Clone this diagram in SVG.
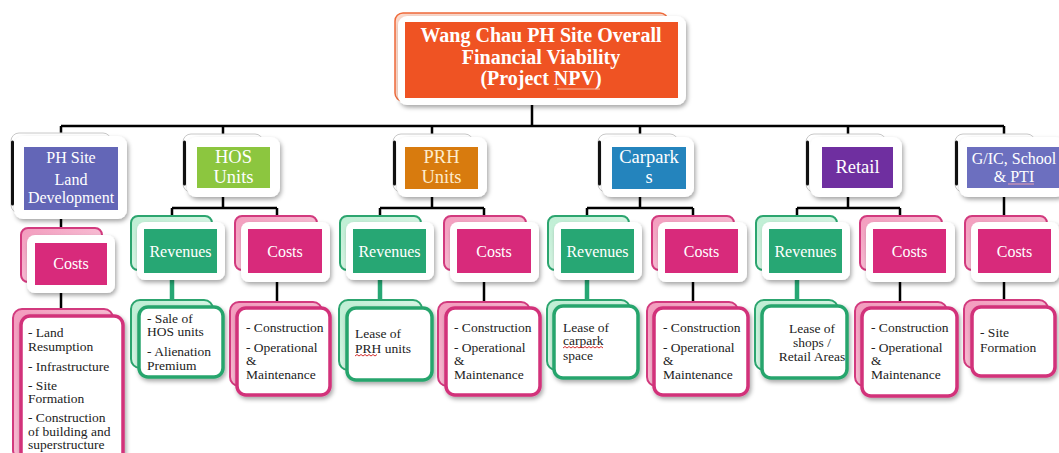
<svg xmlns="http://www.w3.org/2000/svg" width="1059" height="453" viewBox="0 0 1059 453">
  <defs>
    <filter id="shadow" x="-20%" y="-20%" width="140%" height="150%">
      <feDropShadow dx="1.5" dy="2.5" stdDeviation="2" flood-color="#000" flood-opacity="0.35"/>
    </filter>
    <linearGradient id="pinkBack" x1="0" y1="0" x2="1" y2="1">
      <stop offset="0" stop-color="#f39bbd"/>
      <stop offset="1" stop-color="#fbd6e4"/>
    </linearGradient>
    <linearGradient id="greenBack" x1="0" y1="0" x2="1" y2="1">
      <stop offset="0" stop-color="#bdeed3"/>
      <stop offset="1" stop-color="#ecfbf2"/>
    </linearGradient>
  </defs>
  <style>
    .card { fill: #ffffff; filter: url(#shadow); }
    .l1back { fill: #ffffff; stroke: #c8c8c8; stroke-width: 1; }
    .l1edge { fill: none; stroke: #111; stroke-width: 3; stroke-linecap: round; }
    .pinkback { fill: url(#pinkBack); stroke: #d23a7e; stroke-width: 2; }
    .greenback { fill: url(#greenBack); stroke: #2ca56f; stroke-width: 2; }
    .pinkbox { fill: #ffffff; stroke: #d2307a; stroke-width: 3.5; filter: url(#shadow); }
    .greenbox { fill: #ffffff; stroke: #28a56d; stroke-width: 3.5; filter: url(#shadow); }
    .costs { fill: #d82a7b; }
    .rev { fill: #27a774; }
    .title { font-family: "Liberation Serif", serif; font-weight: bold; font-size: 20px; fill: #ffffff; text-anchor: middle; }
    .h1 { font-family: "Liberation Serif", serif; font-size: 18.5px; fill: #ffffff; text-anchor: middle; }
    .h1s { font-family: "Liberation Serif", serif; font-size: 16px; fill: #ffffff; text-anchor: middle; }
    .h2 { font-family: "Liberation Serif", serif; font-size: 16px; fill: #ffffff; text-anchor: middle; }
    .body { font-family: "Liberation Serif", serif; font-size: 13.5px; fill: #222222; }
    .bodyc { font-family: "Liberation Serif", serif; font-size: 13.5px; fill: #222222; text-anchor: middle; }
    .conn { fill: none; stroke: #000; stroke-width: 2.5; }
    .connG { fill: none; stroke: #27a774; stroke-width: 4.5; }
    .squig { fill: none; stroke: #d23030; stroke-width: 1; }
    .uline { fill: none; stroke-width: 1; }
  </style>

  <!-- connectors -->
  <g id="connectors">
    <path class="conn" d="M532,105 V126 M61,126 H1004 M61,126 V133 M223,126 V134 M432,126 V134 M640,126 V134 M848,126 V134 M1004,126 V134"/>
    <path class="conn" d="M61,219 V228"/>
    <path class="conn" d="M223,197 V208 M172,208 H277 M172,208 V216 M277,208 V216"/>
    <path class="conn" d="M432,197 V208 M380,208 H484 M380,208 V216 M484,208 V216"/>
    <path class="conn" d="M640,197 V208 M587,208 H693 M587,208 V216 M693,208 V216"/>
    <path class="conn" d="M848,197 V208 M797,208 H900 M797,208 V216 M900,208 V216"/>
    <path class="conn" d="M1004,197 V216"/>
    <path class="conn" d="M61,293 V309 M277,282 V302 M484,282 V302 M693,282 V302 M900,282 V302 M1004,282 V300"/>
    <path class="connG" d="M172,280 V300 M380,280 V300 M587,280 V300 M797,280 V300"/>
  </g>

  <!-- root -->
  <g id="root">
    <rect x="395" y="13" width="273" height="88" rx="8" fill="#fbd9cb" stroke="#ef6a3a" stroke-width="1.5"/>
    <rect class="card" x="398" y="16" width="288" height="89" rx="9"/>
    <rect x="405" y="22" width="273" height="76" fill="#ef5323"/>
    <text class="title" x="541" y="42">Wang Chau PH Site Overall</text>
    <text class="title" x="541" y="63.5">Financial Viability</text>
    <text class="title" x="541" y="85">(Project NPV)</text>
    <path class="uline" stroke="#f7b79c" d="M557,89 H600"/>
  </g>

  <!-- level 1 -->
  <g id="ph-site">
    <rect class="l1back" x="11" y="133" width="100" height="80" rx="8"/>
    <path class="l1edge" d="M12.5,142 V204"/>
    <rect class="card" x="14" y="136" width="113" height="83" rx="9"/>
    <rect x="24" y="147" width="94" height="63" fill="#6366b7"/>
    <text class="h1s" x="71" y="163">PH Site</text>
    <text class="h1s" x="71" y="185">Land</text>
    <text class="h1s" x="71" y="203">Development</text>
  </g>
  <g id="hos">
    <rect class="l1back" x="183" y="134" width="80" height="58" rx="8"/>
    <path class="l1edge" d="M184.5,142 V184"/>
    <rect class="card" x="187" y="137" width="93" height="60" rx="9"/>
    <rect x="197" y="147" width="73" height="41" fill="#8cc63f"/>
    <text class="h1" x="233.5" y="163">HOS</text>
    <text class="h1" x="233.5" y="183">Units</text>
  </g>
  <g id="prh">
    <rect class="l1back" x="393" y="134" width="80" height="58" rx="8"/>
    <path class="l1edge" d="M394.5,142 V184"/>
    <rect class="card" x="397" y="137" width="90" height="60" rx="9"/>
    <rect x="405" y="147" width="73" height="42" fill="#d87b0e"/>
    <text class="h1" x="441.5" y="163" style="fill:#fdeccd">PRH</text>
    <text class="h1" x="441.5" y="183" style="fill:#fdeccd">Units</text>
  </g>
  <g id="carparks">
    <rect class="l1back" x="598" y="134" width="80" height="58" rx="8"/>
    <path class="l1edge" d="M599.5,142 V184"/>
    <rect class="card" x="602" y="137" width="92" height="60" rx="9"/>
    <rect x="612" y="147" width="74" height="42" fill="#2484bd"/>
    <text class="h1" x="649" y="163">Carpark</text>
    <text class="h1" x="649" y="183">s</text>
  </g>
  <g id="retail">
    <rect class="l1back" x="806" y="134" width="80" height="58" rx="8"/>
    <path class="l1edge" d="M807.5,142 V184"/>
    <rect class="card" x="810" y="137" width="92" height="60" rx="9"/>
    <rect x="822" y="147" width="71" height="41" fill="#6f2fa0"/>
    <text class="h1" x="857.5" y="173">Retail</text>
  </g>
  <g id="gic">
    <rect class="l1back" x="955" y="134" width="80" height="58" rx="8"/>
    <path class="l1edge" d="M956.5,142 V184"/>
    <rect class="card" x="959" y="137" width="106" height="60" rx="9"/>
    <rect x="967" y="147" width="92" height="41" fill="#6c6fbf"/>
    <text class="h1s" x="1014" y="164">G/IC, School</text>
    <text class="h1s" x="1014" y="182">&amp; PTI</text>
    <path class="uline" stroke="#e8a0b0" d="M1008,184 H1034"/>
  </g>

  <!-- level 2 -->
  <g id="ph-costs">
    <rect class="pinkback" x="21" y="228" width="81" height="54" rx="7"/>
    <rect class="card" x="27" y="235" width="88" height="58" rx="8"/>
    <rect class="costs" x="35" y="243" width="72" height="42"/>
    <text class="h2" x="71" y="269">Costs</text>
  </g>
  <g id="hos-revenues">
    <rect class="greenback" x="131" y="216" width="81" height="54" rx="7"/>
    <rect class="card" x="137" y="222" width="88" height="58" rx="8"/>
    <rect class="rev" x="144" y="229" width="73" height="44"/>
    <text class="h2" x="180.5" y="257">Revenues</text>
  </g>
  <g id="hos-costs">
    <rect class="pinkback" x="235" y="216" width="82" height="54" rx="7"/>
    <rect class="card" x="241" y="222" width="89" height="60" rx="8"/>
    <rect class="costs" x="248" y="229" width="74" height="44"/>
    <text class="h2" x="285" y="257">Costs</text>
  </g>
  <g id="prh-revenues">
    <rect class="greenback" x="340" y="216" width="81" height="54" rx="7"/>
    <rect class="card" x="346" y="222" width="88" height="58" rx="8"/>
    <rect class="rev" x="353" y="229" width="73" height="44"/>
    <text class="h2" x="389.5" y="257">Revenues</text>
  </g>
  <g id="prh-costs">
    <rect class="pinkback" x="444" y="216" width="82" height="54" rx="7"/>
    <rect class="card" x="450" y="222" width="89" height="60" rx="8"/>
    <rect class="costs" x="457" y="229" width="74" height="44"/>
    <text class="h2" x="494" y="257">Costs</text>
  </g>
  <g id="carpark-revenues">
    <rect class="greenback" x="548" y="216" width="81" height="54" rx="7"/>
    <rect class="card" x="554" y="222" width="88" height="58" rx="8"/>
    <rect class="rev" x="561" y="229" width="73" height="44"/>
    <text class="h2" x="597.5" y="257">Revenues</text>
  </g>
  <g id="carpark-costs">
    <rect class="pinkback" x="652" y="216" width="82" height="54" rx="7"/>
    <rect class="card" x="658" y="222" width="89" height="60" rx="8"/>
    <rect class="costs" x="665" y="229" width="73" height="44"/>
    <text class="h2" x="701.5" y="257">Costs</text>
  </g>
  <g id="retail-revenues">
    <rect class="greenback" x="756" y="216" width="81" height="54" rx="7"/>
    <rect class="card" x="762" y="222" width="88" height="58" rx="8"/>
    <rect class="rev" x="769" y="229" width="73" height="44"/>
    <text class="h2" x="805.5" y="257">Revenues</text>
  </g>
  <g id="retail-costs">
    <rect class="pinkback" x="860" y="216" width="82" height="54" rx="7"/>
    <rect class="card" x="866" y="222" width="89" height="60" rx="8"/>
    <rect class="costs" x="873" y="229" width="73" height="44"/>
    <text class="h2" x="909.5" y="257">Costs</text>
  </g>
  <g id="gic-costs">
    <rect class="pinkback" x="965" y="216" width="82" height="54" rx="7"/>
    <rect class="card" x="971" y="222" width="88" height="60" rx="8"/>
    <rect class="costs" x="978" y="229" width="73" height="44"/>
    <text class="h2" x="1014.5" y="257">Costs</text>
  </g>

  <!-- level 3 -->
  <g id="ph-costs-items">
    <rect class="pinkback" x="13" y="309" width="100" height="150" rx="9"/>
    <rect class="pinkbox" x="21" y="316" width="102" height="150" rx="9"/>
    <text class="body" x="28" y="337">- Land</text>
    <text class="body" x="28" y="351">Resumption</text>
    <text class="body" x="28" y="371">- Infrastructure</text>
    <text class="body" x="28" y="390">- Site</text>
    <text class="body" x="28" y="403">Formation</text>
    <text class="body" x="28" y="422">- Construction</text>
    <text class="body" x="28" y="436">of building and</text>
    <text class="body" x="28" y="449">superstructure</text>
  </g>
  <g id="hos-revenue-items">
    <rect class="greenback" x="131" y="300" width="82" height="68" rx="9"/>
    <rect class="greenbox" x="139" y="307" width="84" height="70" rx="9"/>
    <text class="body" x="147" y="323">- Sale of</text>
    <text class="body" x="147" y="336">HOS units</text>
    <text class="body" x="147" y="356">- Alienation</text>
    <text class="body" x="147" y="370">Premium</text>
  </g>
  <g id="hos-cost-items">
    <rect class="pinkback" x="230" y="302" width="92" height="84" rx="9"/>
    <rect class="pinkbox" x="237" y="308" width="93" height="87" rx="9"/>
    <text class="body" x="246" y="332">- Construction</text>
    <text class="body" x="246" y="352">- Operational</text>
    <text class="body" x="246" y="365">&amp;</text>
    <text class="body" x="246" y="379">Maintenance</text>
  </g>
  <g id="prh-revenue-items">
    <rect class="greenback" x="339" y="300" width="83" height="70" rx="9"/>
    <rect class="greenbox" x="347" y="308" width="85" height="72" rx="9"/>
    <text class="body" x="355" y="338">Lease of</text>
    <text class="body" x="355" y="353">PRH units</text>
    <path class="squig" d="M355,356 l2,-1.5 l2,1.5 l2,-1.5 l2,1.5 l2,-1.5 l2,1.5 l2,-1.5 l2,1.5 l2,-1.5 l2,1.5 l2,-1.5"/>
  </g>
  <g id="prh-cost-items">
    <rect class="pinkback" x="438" y="302" width="92" height="84" rx="9"/>
    <rect class="pinkbox" x="446" y="308" width="94" height="87" rx="9"/>
    <text class="body" x="454" y="332">- Construction</text>
    <text class="body" x="454" y="352">- Operational</text>
    <text class="body" x="454" y="365">&amp;</text>
    <text class="body" x="454" y="379">Maintenance</text>
  </g>
  <g id="carpark-revenue-items">
    <rect class="greenback" x="547" y="300" width="83" height="70" rx="9"/>
    <rect class="greenbox" x="554" y="306" width="84" height="72" rx="9"/>
    <text class="body" x="563" y="332">Lease of</text>
    <text class="body" x="563" y="345">carpark</text>
    <text class="body" x="563" y="360">space</text>
    <path class="squig" d="M563,348 l2,-1.5 l2,1.5 l2,-1.5 l2,1.5 l2,-1.5 l2,1.5 l2,-1.5 l2,1.5 l2,-1.5 l2,1.5 l2,-1.5 l2,1.5 l2,-1.5 l2,1.5 l2,-1.5 l2,1.5 l2,-1.5 l2,1.5 l2,-1.5 l2,1.5"/>
  </g>
  <g id="carpark-cost-items">
    <rect class="pinkback" x="647" y="302" width="91" height="84" rx="9"/>
    <rect class="pinkbox" x="654" y="308" width="94" height="87" rx="9"/>
    <text class="body" x="663" y="332">- Construction</text>
    <text class="body" x="663" y="352">- Operational</text>
    <text class="body" x="663" y="365">&amp;</text>
    <text class="body" x="663" y="379">Maintenance</text>
  </g>
  <g id="retail-revenue-items">
    <rect class="greenback" x="755" y="300" width="83" height="70" rx="9"/>
    <rect class="greenbox" x="762" y="306" width="85" height="72" rx="9"/>
    <text class="bodyc" x="812" y="333">Lease of</text>
    <text class="bodyc" x="812" y="347">shops /</text>
    <text class="bodyc" x="812" y="361">Retail Areas</text>
  </g>
  <g id="retail-cost-items">
    <rect class="pinkback" x="855" y="302" width="92" height="84" rx="9"/>
    <rect class="pinkbox" x="862" y="308" width="95" height="88" rx="9"/>
    <text class="body" x="871" y="332">- Construction</text>
    <text class="body" x="871" y="352">- Operational</text>
    <text class="body" x="871" y="365">&amp;</text>
    <text class="body" x="871" y="379">Maintenance</text>
  </g>
  <g id="gic-cost-items">
    <rect class="pinkback" x="964" y="300" width="84" height="68" rx="9"/>
    <rect class="pinkbox" x="972" y="307" width="83" height="69" rx="9"/>
    <text class="body" x="980" y="337">- Site</text>
    <text class="body" x="980" y="352">Formation</text>
  </g>
</svg>
